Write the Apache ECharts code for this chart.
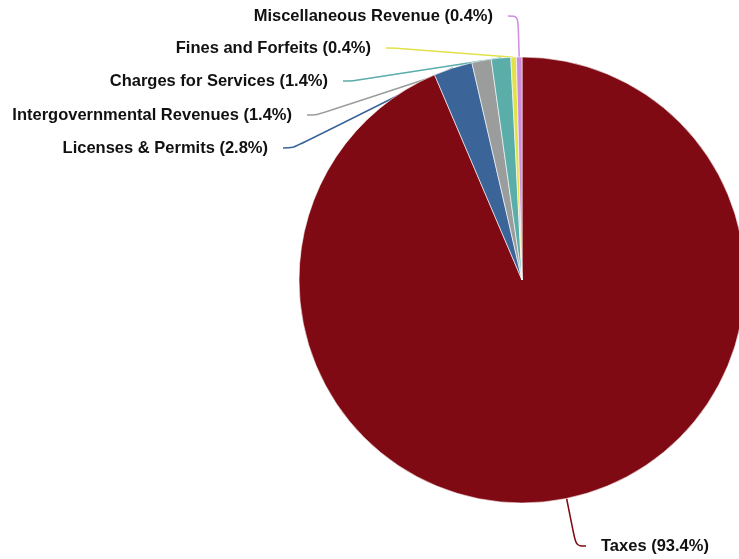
<!DOCTYPE html>
<html>
<head>
<meta charset="utf-8">
<style>
  html, body { margin: 0; padding: 0; background: #ffffff; }
  #chart { width: 739px; height: 559px; }
</style>
<script src="https://cdn.jsdelivr.net/npm/echarts@6/dist/echarts.min.js"></script>
</head>
<body>
<div id="chart"></div>
<script>
// Revenue sources, share of total (%)
const categories = [
  'Taxes',
  'Licenses & Permits',
  'Intergovernmental Revenues',
  'Charges for Services',
  'Fines and Forfeits',
  'Miscellaneous Revenue'
];
const shares = [93.4, 2.8, 1.4, 1.4, 0.4, 0.4];

const sliceColors = ['#800a13', '#3b6498', '#9b9d9d', '#5aada9', '#e1e24a', '#cd8ce0'];

// Where each label's text edge sits on the canvas
const labelSpots = [
  { x: 601, y: 546, align: 'left' },
  { x: 268, y: 148, align: 'right' },
  { x: 292, y: 115, align: 'right' },
  { x: 328, y: 81, align: 'right' },
  { x: 371, y: 48, align: 'right' },
  { x: 493, y: 16, align: 'right' }
];
const GAP = 15; // space between a leader line and its text

const chart = echarts.init(document.getElementById('chart'), null, { renderer: 'canvas' });

chart.setOption({
  animation: false,
  series: [{
    type: 'pie',
    center: [522, 280],
    radius: 223,
    startAngle: 90,
    clockwise: true,
    avoidLabelOverlap: false,
    itemStyle: { borderColor: '#ffffff', borderWidth: 0.6 },
    label: {
      show: true,
      formatter: (p) => p.name + ' (' + p.value.toFixed(1) + '%)',
      fontFamily: 'Liberation Sans, Arial, sans-serif',
      fontWeight: 'bold',
      fontSize: 16.5,
      color: '#111111',
      backgroundColor: 'rgba(255,255,255,0)'
    },
    labelLine: {
      show: true,
      smooth: 0.35,
      length: 15,
      length2: 10,
      lineStyle: { width: 1.5 }
    },
    labelLayout: (params) => {
      const s = labelSpots[params.dataIndex];
      const left = s.align === 'left';
      return {
        x: left ? s.x - GAP : s.x + GAP,
        y: s.y,
        align: s.align,
        verticalAlign: 'middle'
      };
    },
    data: categories.map((name, i) => ({
      name,
      value: shares[i],
      itemStyle: { color: sliceColors[i] },
      label: { padding: labelSpots[i].align === 'left' ? [0, 0, 0, GAP] : [0, GAP, 0, 0] },
      labelLine: { lineStyle: { color: sliceColors[i] } }
    }))
  }]
});
</script>
</body>
</html>
